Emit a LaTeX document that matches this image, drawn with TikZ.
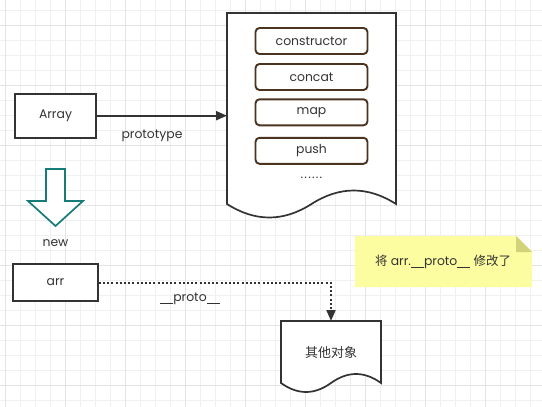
\documentclass[tikz,border=0pt]{standalone}
\usepackage{fontspec}
\setmainfont{Poppins}
\newfontfamily\cjkfont{Noto Sans CJK SC}
\usetikzlibrary{arrows.meta}
\definecolor{txt}{HTML}{333333}
\definecolor{minorgrid}{HTML}{F0F0F0}
\definecolor{majorgrid}{HTML}{E4E4E4}
\definecolor{brownline}{HTML}{4A3420}
\definecolor{tealc}{HTML}{157C7A}
\definecolor{notefill}{HTML}{FCFCA0}
\definecolor{notefold}{HTML}{D2D27A}
\newcommand\dus{\rule[-2.2pt]{13pt}{0.8pt}}
\newcommand\sdot{.\kern1.2pt}
\tikzset{
  fnt/.style={font=\fontsize{12.4}{14}\selectfont},
  lbl/.style={fnt, text=txt, inner sep=0pt},
  plainbox/.style={draw=txt, line width=1.7pt, fill=white, fnt, text=txt, inner sep=0pt},
  methbox/.style={draw=brownline, line width=1.9pt, rounded corners=4pt, fill=white, minimum width=112pt, minimum height=26pt, fnt, text=txt, inner sep=0pt},
  docline/.style={draw=txt, line width=1.7pt, fill=white},
  conn/.style={draw=txt, line width=1.9pt, -{Triangle[length=11pt,width=9pt]}},
}
\begin{document}
\begin{tikzpicture}[x=1pt,y=-1pt]
\useasboundingbox (0,0) rectangle (542,407);
\fill[white] (0,0) rectangle (542,407);
% grid
\foreach \i in {0,...,36} {
  \draw[minorgrid, line width=0.8pt] ({5.3+15*\i},0) -- ({5.3+15*\i},407);
}
\foreach \j in {0,...,26} {
  \draw[minorgrid, line width=0.8pt] (0,{10.7+15*\j}) -- (542,{10.7+15*\j});
}
\foreach \i in {0,...,9} {
  \draw[majorgrid, line width=1pt] ({5.3+60*\i},0) -- ({5.3+60*\i},407);
}
\foreach \j in {0,...,6} {
  \draw[majorgrid, line width=1pt] (0,{25.7+60*\j}) -- (542,{25.7+60*\j});
}

% big document shape
\path[docline] (227,13) -- (396,13) -- (396,204)
  .. controls (367.8,186) and (339.7,186) .. (311.5,204)
  .. controls (283.3,222) and (255.2,222) .. (227,204) -- cycle;
\coordinate (protoin) at (227,115.7);

% methods
\node[methbox] (m1) at (311.5,41) {constructor};
\node[methbox] (m2) at (311.5,77) {concat};
\node[methbox] (m3) at (311.5,112.3) {map};
\node[methbox] (m4) at (311.5,150.8) {push};
\node[lbl] (dots) at (311.5,178) {\sdot\sdot\sdot\sdot\sdot.};

% Array box
\node[plainbox, minimum width=81pt, minimum height=44pt] (array) at (55.5,116) {Array};
\draw[conn] (array.east |- protoin) -- (protoin);
\node[lbl] (protolbl) at (152,136) {prototype};

% hollow arrow
\path[draw=tealc, line width=1.7pt, fill=white] (46,169) -- (65,169) -- (65,201) -- (83,201) -- (55.5,226) -- (28,201) -- (46,201) -- cycle;
\node[lbl] (newlbl) at (55.5,243) {new};

% arr box
\node[plainbox, minimum width=85pt, minimum height=37pt] (arr) at (55.5,282.5) {arr};

% small document
\path[docline] (281,321) -- (381,321) -- (381,383)
  .. controls (364.3,371) and (347.7,371) .. (331,383)
  .. controls (314.3,395) and (297.7,395) .. (281,383) -- cycle;
\coordinate (other) at (331,321);
\node[lbl, font=\cjkfont\fontsize{13}{15}\selectfont] (otherlbl) at (331,353) {其他对象};

% dotted connector
\coordinate (bend) at (331,283);
\draw[draw=txt, line width=2pt, dash pattern=on 2pt off 2.2pt, -{Triangle[length=11pt,width=9pt]}] (arr.east |- bend) -- (bend) -- (other);
\node[lbl] (plbl) at (190,299) {\dus proto\dus};

% note
\path[fill=notefill] (355,236) -- (516,236) -- (532,252) -- (532,287) -- (355,287) -- cycle;
\path[fill=notefold] (516,236) -- (532,252) -- (516,252) -- cycle;
\node[lbl] (note) at (443,262) {{\cjkfont 将} arr.\dus proto\dus\ {\cjkfont 修改了}};
\end{tikzpicture}
\end{document}
